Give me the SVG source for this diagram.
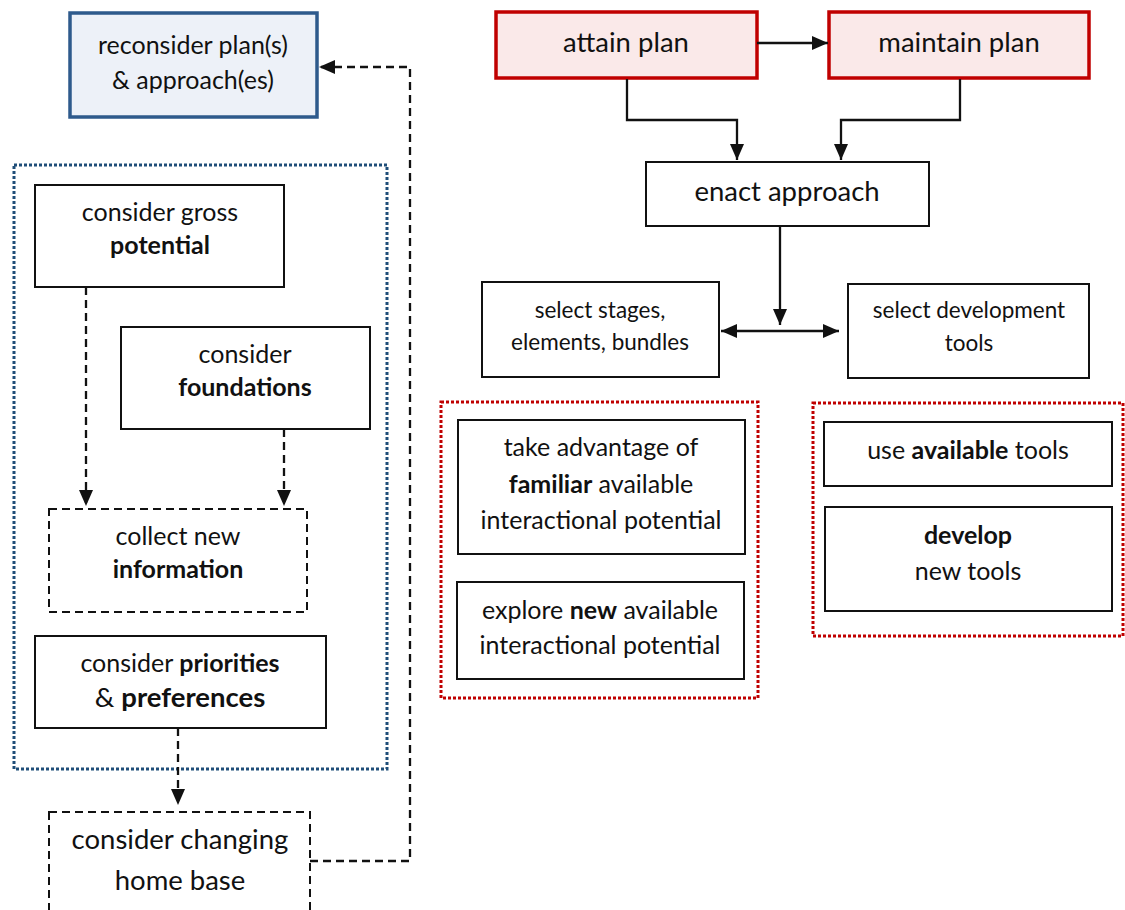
<svg xmlns="http://www.w3.org/2000/svg" width="1125" height="910" viewBox="0 0 1125 910">
  <style>
    text { font-family: Lato, "Liberation Sans", sans-serif; fill: #111; text-anchor: middle; }
    .t26 { font-size: 25px; }
    .t29 { font-size: 27.5px; }
    .t24 { font-size: 22.5px; }
    .b { font-weight: bold; }
    .box { fill: #fff; stroke: #111; stroke-width: 2; }
    .dbox { fill: #fff; stroke: #111; stroke-width: 2; stroke-dasharray: 8 5; }
    .plan { fill: #fae9e9; stroke: #c00000; stroke-width: 3.5; }
    .recon { fill: #edf1f8; stroke: #2e5a8c; stroke-width: 3.5; }
    .grpRed { fill: none; stroke: #c00000; stroke-width: 3; stroke-dasharray: 3 2; }
    .grpBlue { fill: none; stroke: #1f4e79; stroke-width: 3; stroke-dasharray: 3 2; }
    .line { fill: none; stroke: #111; stroke-width: 2.3; }
    .dash { fill: none; stroke: #111; stroke-width: 2.3; stroke-dasharray: 8 5; }
  </style>
  <defs>
    <marker id="arrow" markerUnits="userSpaceOnUse" markerWidth="16" markerHeight="14" refX="16" refY="7" orient="auto-start-reverse" viewBox="0 0 16 14">
      <path d="M0,0 L16,7 L0,14 z" fill="#111"/>
    </marker>
  </defs>

  <!-- group frames -->
  <g id="group-left">
    <rect class="grpBlue" x="14" y="165" width="373" height="604"/>
  </g>
  <g id="group-potential">
    <rect class="grpRed" x="441" y="402" width="317" height="296"/>
  </g>
  <g id="group-tools">
    <rect class="grpRed" x="813" y="403" width="310" height="233"/>
  </g>

  <!-- nodes -->
  <g id="reconsider">
    <rect class="recon" x="70" y="13" width="247" height="104"/>
    <text class="t26" x="193" y="54">reconsider plan(s)</text>
    <text class="t26" x="193" y="89">&amp; approach(es)</text>
  </g>
  <g id="attain">
    <rect class="plan" x="496" y="12" width="261" height="66"/>
    <text class="t29" x="626" y="52">attain plan</text>
  </g>
  <g id="maintain">
    <rect class="plan" x="829" y="12" width="260" height="66"/>
    <text class="t29" x="959" y="52">maintain plan</text>
  </g>
  <g id="enact">
    <rect class="box" x="646" y="162" width="283" height="64"/>
    <text class="t29" x="787" y="201">enact approach</text>
  </g>
  <g id="stages">
    <rect class="box" x="482" y="282" width="237" height="95"/>
    <text class="t24" x="600" y="318">select stages,</text>
    <text class="t24" x="600" y="350">elements, bundles</text>
  </g>
  <g id="devtools">
    <rect class="box" x="848" y="284" width="241" height="94"/>
    <text class="t24" x="969" y="318">select development</text>
    <text class="t24" x="969" y="351">tools</text>
  </g>
  <g id="familiar">
    <rect class="box" x="458" y="420" width="287" height="134"/>
    <text class="t26" x="601" y="456">take advantage of</text>
    <text class="t26" x="601" y="493"><tspan class="b">familiar</tspan> available</text>
    <text class="t26" x="601" y="529">interactional potential</text>
  </g>
  <g id="explore">
    <rect class="box" x="457" y="582" width="287" height="97"/>
    <text class="t26" x="600" y="619">explore <tspan class="b">new</tspan> available</text>
    <text class="t26" x="600" y="654">interactional potential</text>
  </g>
  <g id="available">
    <rect class="box" x="824" y="422" width="288" height="64"/>
    <text class="t26" x="968" y="459">use <tspan class="b">available</tspan> tools</text>
  </g>
  <g id="develop">
    <rect class="box" x="825" y="507" width="287" height="104"/>
    <text class="t26 b" x="968" y="544">develop</text>
    <text class="t26" x="968" y="580">new tools</text>
  </g>
  <g id="gross">
    <rect class="box" x="35" y="185" width="249" height="102"/>
    <text class="t26" x="160" y="221">consider gross</text>
    <text class="t26 b" x="160" y="254">potential</text>
  </g>
  <g id="foundations">
    <rect class="box" x="121" y="327" width="249" height="102"/>
    <text class="t26" x="245" y="363">consider</text>
    <text class="t26 b" x="245" y="396">foundations</text>
  </g>
  <g id="collect">
    <rect class="dbox" x="49" y="509" width="258" height="103"/>
    <text class="t26" x="178" y="545">collect new</text>
    <text class="t26 b" x="178" y="578">information</text>
  </g>
  <g id="priorities">
    <rect class="box" x="35" y="636" width="291" height="92"/>
    <text class="t26" x="180" y="672">consider <tspan class="b">priorities</tspan></text>
    <text class="t29" x="180" y="707">&amp; <tspan class="b">preferences</tspan></text>
  </g>
  <g id="homebase">
    <rect class="dbox" x="49" y="812" width="261" height="120"/>
    <text class="t29" x="180" y="849">consider changing</text>
    <text class="t29" x="180" y="890">home base</text>
  </g>

  <!-- connectors -->
  <g id="connectors">
    <path class="line" d="M757,43 H828" marker-end="url(#arrow)"/>
    <path class="line" d="M627,79 V120 H737 V160" marker-end="url(#arrow)"/>
    <path class="line" d="M960,79 V120 H841 V160" marker-end="url(#arrow)"/>
    <path class="line" d="M780,226 V325" marker-end="url(#arrow)"/>
    <path class="line" d="M721,331 H839" marker-start="url(#arrow)" marker-end="url(#arrow)"/>
    <path class="dash" d="M86,287 V506" marker-end="url(#arrow)"/>
    <path class="dash" d="M284,429 V506" marker-end="url(#arrow)"/>
    <path class="dash" d="M178,728 V805" marker-end="url(#arrow)"/>
    <path class="dash" d="M310,861 H410 V67 H319" marker-end="url(#arrow)"/>
  </g>
</svg>
